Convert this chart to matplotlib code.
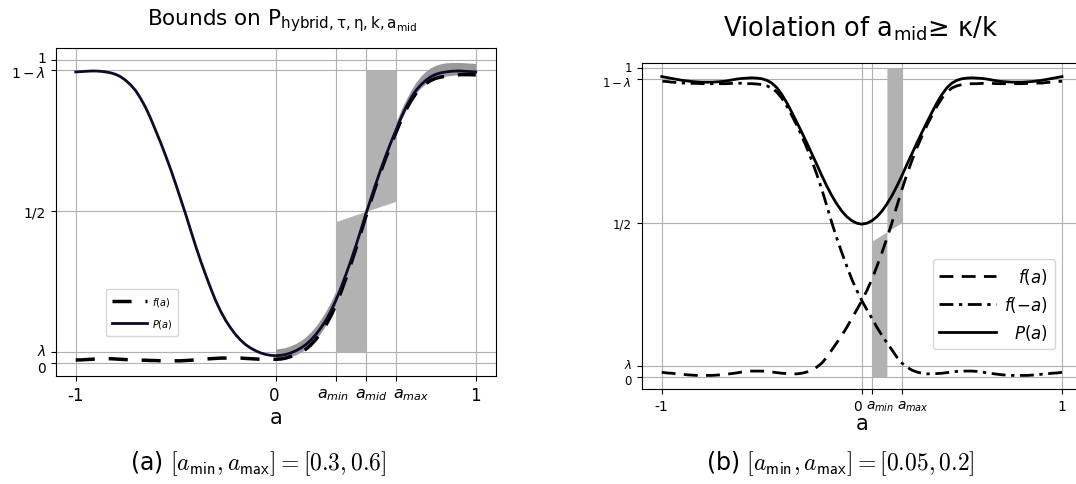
import numpy as np
import matplotlib
matplotlib.use("Agg")
import matplotlib.pyplot as plt
from matplotlib.transforms import ScaledTranslation

# ---------------- data ----------------
lam = 0.035
a_grid = np.round(np.arange(-1.0, 1.0001, 0.025), 3)

# panel (a)
f_a = [0.010, 0.010, 0.011, 0.012, 0.013, 0.014, 0.014, 0.014, 0.013, 0.012,
       0.011, 0.010, 0.010, 0.009, 0.009, 0.008, 0.008, 0.007, 0.007, 0.007,
       0.007, 0.007, 0.008, 0.009, 0.010, 0.011, 0.013, 0.014, 0.015, 0.016,
       0.016, 0.016, 0.016, 0.016, 0.015, 0.014, 0.013, 0.012, 0.012, 0.012,
       0.012,
       0.013, 0.016, 0.021, 0.027, 0.035, 0.045, 0.059, 0.077, 0.099, 0.124,
       0.154, 0.190, 0.232, 0.277, 0.325, 0.375, 0.428, 0.482, 0.533, 0.583,
       0.631, 0.676, 0.719, 0.758, 0.798, 0.833, 0.863, 0.888, 0.907, 0.921,
       0.932, 0.939, 0.943, 0.946, 0.948, 0.950, 0.951, 0.951, 0.951, 0.950]
P_a = [0.960, 0.961, 0.962, 0.963, 0.963, 0.962, 0.960, 0.957, 0.952, 0.944,
       0.932, 0.917, 0.898, 0.872, 0.842, 0.806, 0.766, 0.726, 0.683, 0.638,
       0.590, 0.540, 0.490, 0.437, 0.385, 0.336, 0.290, 0.246, 0.205, 0.170,
       0.140, 0.115, 0.093, 0.075, 0.060, 0.049, 0.040, 0.033, 0.028, 0.025,
       0.024,
       0.025, 0.028, 0.033, 0.040, 0.049, 0.060, 0.075, 0.093, 0.115, 0.140,
       0.170, 0.205, 0.246, 0.290, 0.336, 0.385, 0.437, 0.490, 0.540, 0.590,
       0.638, 0.683, 0.726, 0.766, 0.806, 0.842, 0.872, 0.898, 0.917, 0.932,
       0.944, 0.952, 0.957, 0.960, 0.962, 0.963, 0.963, 0.962, 0.961, 0.960]
bound_x_a = a_grid[40:]
bound_hi_a = [0.046, 0.048, 0.051, 0.057, 0.064, 0.074, 0.086, 0.102, 0.121, 0.144,
              0.170, 0.201, 0.236, 0.276, 0.319, 0.364, 0.412, 0.463, 0.515, 0.565,
              0.615, 0.663, 0.709, 0.752, 0.792, 0.832, 0.867, 0.898, 0.925, 0.946,
              0.962, 0.974, 0.982, 0.987, 0.990, 0.991, 0.991, 0.991, 0.990, 0.989,
              0.988]
bound_lo_a = f_a[40:]
amin_a, amid_a, amax_a = 0.3, 0.45, 0.6
slant_a = [0.466, 0.500, 0.533]   # band boundary at a_min, a_mid, a_max

# panel (b)
f_b = [0.015, 0.013, 0.012, 0.010, 0.009, 0.007, 0.006, 0.005, 0.005, 0.005,
       0.005, 0.006, 0.007, 0.009, 0.011, 0.013, 0.016, 0.018, 0.019, 0.019,
       0.019, 0.018, 0.016, 0.014, 0.012, 0.011, 0.010, 0.010, 0.012, 0.016,
       0.022, 0.032, 0.045, 0.064, 0.088, 0.111, 0.135, 0.161, 0.190, 0.218,
       0.247,
       0.280, 0.316, 0.358, 0.402, 0.449, 0.499, 0.554, 0.607, 0.656, 0.701,
       0.742, 0.780, 0.815, 0.847, 0.877, 0.903, 0.923, 0.936, 0.943, 0.947,
       0.949, 0.950, 0.950, 0.951, 0.952, 0.951, 0.950, 0.950, 0.950, 0.950,
       0.950, 0.950, 0.951, 0.951, 0.952, 0.952, 0.954, 0.955, 0.957, 0.958]
P_b = [0.973, 0.970, 0.967, 0.964, 0.961, 0.959, 0.957, 0.956, 0.955, 0.955,
       0.955, 0.956, 0.957, 0.959, 0.962, 0.965, 0.967, 0.968, 0.969, 0.968,
       0.966, 0.961, 0.952, 0.937, 0.915, 0.888, 0.857, 0.825, 0.792, 0.758,
       0.723, 0.688, 0.652, 0.618, 0.587, 0.560, 0.537, 0.519, 0.506, 0.498,
       0.495,
       0.498, 0.506, 0.519, 0.537, 0.560, 0.587, 0.618, 0.652, 0.688, 0.723,
       0.758, 0.792, 0.825, 0.857, 0.888, 0.915, 0.937, 0.952, 0.961, 0.966,
       0.968, 0.969, 0.968, 0.967, 0.965, 0.962, 0.959, 0.957, 0.956, 0.955,
       0.955, 0.955, 0.956, 0.957, 0.959, 0.961, 0.964, 0.967, 0.970, 0.973]
amin_b, amid_b, amax_b = 0.05, 0.125, 0.2
slant_b = [0.440, 0.470, 0.500]

ytick_vals = [0, lam, 0.5, 1 - lam, 1]
ytick_labels = ['0', r'$\lambda$', '1/2', r'$1-\lambda$', '1']


def shift(labels, offsets, fig, axis='y'):
    for lbl, d in zip(labels, offsets):
        if d:
            if axis == 'y':
                tr = ScaledTranslation(0, d / 100, fig.dpi_scale_trans)
            else:
                tr = ScaledTranslation(d / 100, 0, fig.dpi_scale_trans)
            lbl.set_transform(lbl.get_transform() + tr)


# ---------------- figure ----------------
fig = plt.figure(figsize=(10.76, 4.85), dpi=100)
grid_kw = dict(color='#b0b0b0', lw=0.8)
band_col = '#b2b2b2'

# ---- panel a ----
ax1 = fig.add_axes([0.0518, 0.2221, 0.4089, 0.6769])
ax1.set_axisbelow(True)
ax1.fill_between(bound_x_a, bound_lo_a, bound_hi_a, color='#999999', lw=0, zorder=2)
ax1.fill_between([amin_a, amid_a], [lam, lam], slant_a[:2], color=band_col, lw=0, zorder=2)
ax1.fill_between([amid_a, amax_a], slant_a[1:], [1 - lam, 1 - lam], color=band_col, lw=0, zorder=2)
ax1.plot(a_grid, f_a, color='black', lw=2.5, dashes=(5.5, 4), label='$f(a)$', zorder=3)
ax1.plot(a_grid, P_a, color='#0b0b2a', lw=2.0, label='$P(a)$', zorder=4)
ax1.set_xlim(-1.1, 1.1)
ax1.set_ylim(-0.044, 1.039)
ax1.set_xticks([-1, 0, amin_a, amid_a, amax_a, 1])
ax1.set_xticklabels(['-1', '0', r'$a_{min}$', r'$a_{mid}$', r'$a_{max}$', '1'], fontsize=12)
for lbl in ax1.get_xticklabels()[2:5]:
    lbl.set_fontsize(11.5)
shift(ax1.get_xticklabels(), [0, -2, -3, 6, 15, 0], fig, axis='x')
ax1.set_yticks(ytick_vals)
ax1.set_yticklabels(ytick_labels, fontsize=10)
shift(ax1.get_yticklabels(), [-4, 3, 0, -1, 3], fig)
ax1.grid(True, **grid_kw)
ax1.set_xlabel('a', fontsize=15, labelpad=2)
ax1.legend(loc='lower left', bbox_to_anchor=(0.114, 0.124), borderaxespad=0,
           fontsize=7, handlelength=3.6, labelspacing=0.9, handletextpad=0.5,
           borderpad=0.6)
fig.text(0.262, 0.948, r'Bounds on $\mathregular{P_{hybrid,τ,η,k,a_{mid}}}$',
         ha='center', va='baseline', fontsize=15.5)

# ---- panel b ----
ax2 = fig.add_axes([0.5964, 0.1959, 0.4092, 0.6715])
ax2.set_axisbelow(True)
ax2.fill_between([amin_b, amid_b], [0, 0], slant_b[:2], color=band_col, lw=0, zorder=2)
ax2.fill_between([amid_b, amax_b], slant_b[1:], [1, 1], color=band_col, lw=0, zorder=2)
ax2.plot(a_grid, f_b, color='black', lw=2.0, dashes=(5, 3), label='$f(a)$', zorder=3)
ax2.plot(-a_grid, f_b, color='black', lw=2.0, dashes=(5, 2, 1.2, 2), label='$f(-a)$', zorder=3)
ax2.plot(a_grid, P_b, color='black', lw=2.0, label='$P(a)$', zorder=4)
ax2.set_xlim(-1.1, 1.1)
ax2.set_ylim(-0.039, 1.016)
ax2.set_xticks([-1, 0, amin_b, amax_b, 1])
ax2.set_xticklabels(['-1', '0', r'$a_{min}$', r'$a_{max}$', '1'], fontsize=10)
shift(ax2.get_xticklabels(), [0, -4, 8, 11, 0], fig, axis='x')
ax2.set_yticks(ytick_vals)
ax2.set_yticklabels(ytick_labels, fontsize=8.5)
shift(ax2.get_yticklabels(), [-2, 3, 0, -2, 2], fig)
ax2.grid(True, **grid_kw)
ax2.set_xlabel('a', fontsize=15, labelpad=0)
leg2 = ax2.legend(loc='lower left', bbox_to_anchor=(0.661, 0.123), borderaxespad=0,
                  fontsize=12, handlelength=3.4, handletextpad=0.5)
fig.text(0.8, 0.924, r'Violation of $\mathregular{a_{mid}}$≥ κ/k',
         ha='center', va='baseline', fontsize=18.5)

# ---- captions ----
fig.text(0.24, 0.03, r'(a) $[a_{\mathsf{min}}, a_{\mathsf{max}}] = [0.3, 0.6]$',
         ha='center', va='baseline', fontsize=17, math_fontfamily='cm')
fig.text(0.781, 0.03, r'(b) $[a_{\mathsf{min}}, a_{\mathsf{max}}] = [0.05, 0.2]$',
         ha='center', va='baseline', fontsize=17, math_fontfamily='cm')

# right-align the legend labels of panel b
fig.canvas.draw()
renderer = fig.canvas.get_renderer()
texts = leg2.get_texts()
widths = [t.get_window_extent(renderer).width for t in texts]
wmax = max(widths)
for t, w in zip(texts, widths):
    t.set_transform(t.get_transform() + ScaledTranslation((wmax - w) / 100, 0, fig.dpi_scale_trans))

fig.savefig('out.png', dpi=100)
